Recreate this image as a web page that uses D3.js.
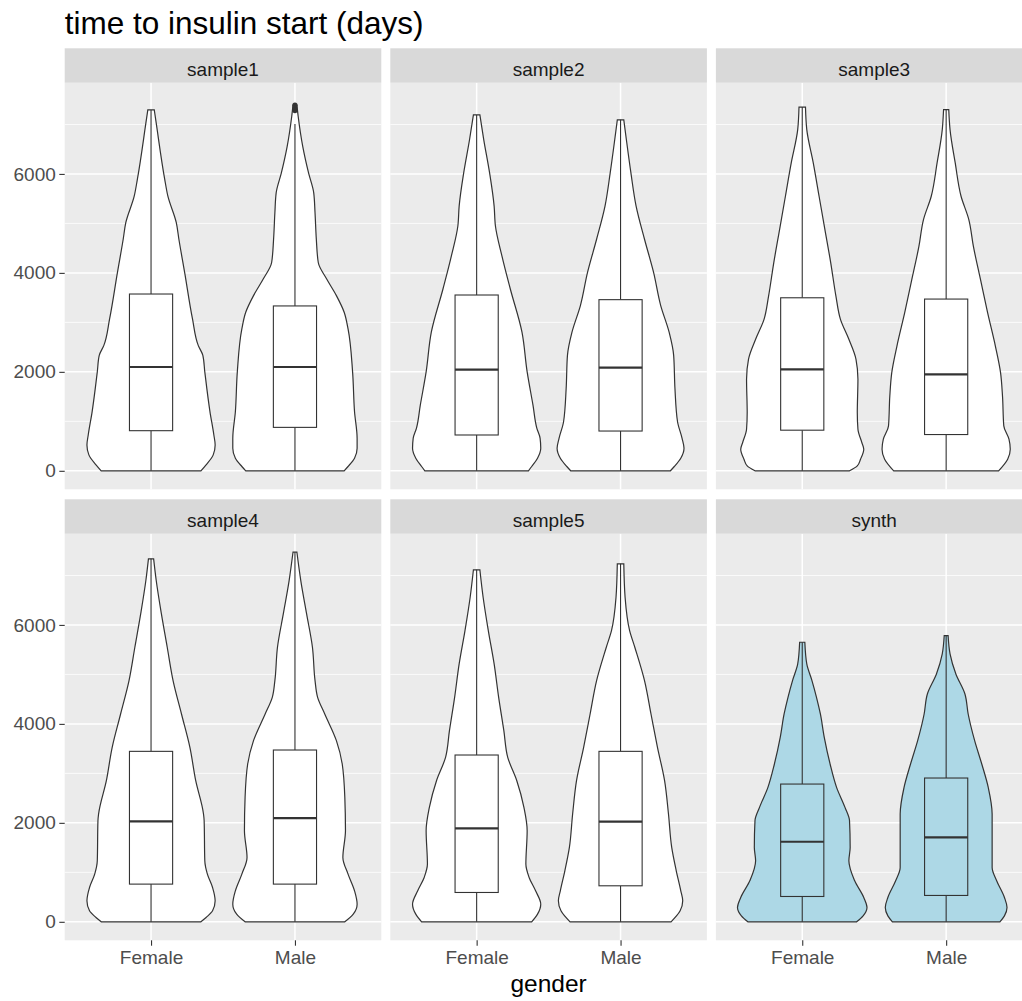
<!DOCTYPE html>
<html>
<head>
<meta charset="utf-8">
<script src="https://cdn.jsdelivr.net/npm/d3@7"></script>
<style>
  body { margin: 0; background: #fff; }
  text { font-family: "Liberation Sans", Arial, sans-serif; }
</style>
</head>
<body>
<div id="chart"></div>
<script>
var panels = ["sample1", "sample2", "sample3", "sample4", "sample5", "synth"];
var genders = ["Female", "Male"];
var yTicks = [0, 2000, 4000, 6000];
var yMinor = [1000, 3000, 5000, 7000];

// violin outlines: [days, relative density]
var s1Female = [[0,0.77],[121,0.85],[322,0.96],[523,0.99],[724,0.97],[1193,0.91],[2000,0.83],[2333,0.80],[2530,0.73],[3070,0.64],[4000,0.52],[4680,0.43],[5015,0.39],[5550,0.26],[5900,0.21],[7025,0.08],[7294,0.05]];
var s1Male = [[0,0.76],[87,0.82],[255,0.92],[456,0.96],[657,0.96],[1193,0.92],[2000,0.89],[2869,0.82],[3204,0.76],[3540,0.64],[3875,0.49],[4210,0.36],[4680,0.33],[5216,0.31],[5618,0.29],[6020,0.21],[6557,0.12],[7160,0.05],[7390,0.03]];
var s2Female = [[0,0.80],[87,0.85],[255,0.94],[456,0.99],[657,0.98],[858,0.93],[1327,0.87],[1998,0.78],[2802,0.70],[3674,0.52],[4344,0.39],[4948,0.29],[5350,0.27],[6020,0.20],[6690,0.11],[7193,0.05]];
var s2Male = [[0,0.77],[87,0.83],[255,0.93],[456,0.98],[657,0.95],[992,0.88],[1663,0.84],[2333,0.82],[2802,0.75],[3339,0.62],[4009,0.51],[4680,0.37],[5350,0.24],[6020,0.16],[6690,0.09],[7093,0.05]];
var s3Female = [[0,0.73],[100,0.85],[235,0.90],[437,0.95],[572,0.92],[841,0.86],[1177,0.85],[1850,0.86],[2253,0.83],[2657,0.72],[3060,0.59],[3531,0.52],[4204,0.44],[4876,0.35],[5549,0.26],[6222,0.17],[6894,0.07],[7351,0.05]];
var s3Male = [[0,0.81],[235,0.95],[437,0.99],[639,0.97],[908,0.89],[1513,0.87],[1984,0.84],[2522,0.76],[3195,0.64],[3867,0.53],[4540,0.42],[5078,0.35],[5549,0.23],[6222,0.14],[6894,0.06],[7298,0.04]];
var s4Female = [[0,0.77],[88,0.85],[222,0.95],[425,0.99],[694,0.95],[964,0.87],[1234,0.83],[2043,0.82],[2178,0.81],[2852,0.69],[3526,0.60],[4200,0.47],[4875,0.34],[5549,0.25],[6223,0.16],[6897,0.08],[7335,0.04]];
var s4Male = [[0,0.77],[155,0.90],[357,0.96],[627,0.92],[964,0.82],[1301,0.74],[1841,0.78],[2515,0.77],[3189,0.73],[3661,0.64],[4200,0.46],[4537,0.35],[4875,0.31],[5549,0.27],[6223,0.18],[6897,0.09],[7470,0.03]];
var s5Female = [[0,0.85],[155,0.94],[357,0.99],[627,0.91],[897,0.81],[1166,0.76],[1841,0.78],[2313,0.73],[2852,0.62],[3324,0.48],[3863,0.42],[4537,0.34],[5212,0.27],[5886,0.18],[6560,0.10],[7113,0.05]];
var s5Male = [[0,0.78],[222,0.92],[425,0.96],[627,0.93],[1032,0.86],[1503,0.79],[2178,0.74],[2852,0.68],[3526,0.57],[4200,0.47],[4874,0.37],[5549,0.22],[5886,0.14],[6560,0.07],[7234,0.05]];
var synFemale = [[0,0.84],[121,0.94],[290,1.0],[492,0.95],[829,0.81],[1234,0.72],[1503,0.74],[2043,0.73],[2312,0.66],[2717,0.53],[3189,0.43],[3728,0.34],[4200,0.28],[4537,0.22],[4875,0.15],[5211,0.07],[5650,0.04]];
var synMale = [[0,0.83],[121,0.90],[290,0.94],[492,0.90],[829,0.78],[1099,0.71],[1638,0.71],[2178,0.71],[2717,0.65],[3189,0.55],[3661,0.44],[4200,0.34],[4605,0.29],[5009,0.15],[5414,0.06],[5785,0.03]];

// boxplot stats per panel: [Female, Male]
var q1 = [[811, 878], [724, 804], [821, 733], [762, 762], [593, 728], [512, 533]];
var median = [[2098, 2098], [2045, 2085], [2051, 1951], [2029, 2097], [1888, 2023], [1618, 1706]];
var q3 = [[3573, 3332], [3553, 3459], [3497, 3471], [3445, 3472], [3371, 3445], [2784, 2906]];
var whiskerLow = [[0, 0], [0, 0], [0, 0], [0, 0], [0, 0], [0, 0]];
var whiskerHigh = [[7294, 7010], [7193, 7093], [7351, 7298], [7335, 7470], [7113, 7234], [5650, 5785]];
var outliers = [[[], [7280, 7330, 7390]], [[], []], [[], []], [[], []], [[], []], [[], []]];

var violins = [[s1Female, s1Male], [s2Female, s2Male], [s3Female, s3Male],
  [s4Female, s4Male], [s5Female, s5Male], [synFemale, synMale]];

function init() {
  var w = 1022;
  var h = 1001;
  var panelLeft = 64.7;
  var panelW = 316.6;
  var panelGap = 9;
  var stripTop = [48.3, 499.3];
  var stripH = 34.4;
  var panelH = 406.6;

  var svg = d3.select("#chart")
    .append("svg")
    .attr("width", w)
    .attr("height", h);

  svg.append("rect").attr("width", w).attr("height", h).attr("fill", "#fff");

  var allDays = [];
  violins.forEach(function (p) {
    p.forEach(function (v) {
      v.forEach(function (d) { allDays.push(d[0]); });
    });
  });
  var lo = d3.min(allDays), hi = d3.max(allDays);
  var pad = (hi - lo) * 0.05;

  var x = d3.scalePoint()
    .domain(genders)
    .range([0, panelW])
    .padding(0.6);
  var step = x.step();
  var dens = d3.scaleLinear().domain([0, 1]).range([0, 0.45 * step]);

  panels.forEach(function (name, i) {
    var row = Math.floor(i / 3), col = i % 3;
    var px = panelLeft + col * (panelW + panelGap);
    var top = stripTop[row] + stripH;
    var y = d3.scaleLinear()
      .domain([lo - pad, hi + pad])
      .range([panelH, 0]);

    var g = svg.append("g").attr("transform", "translate(" + px + "," + top + ")");

    // strip
    svg.append("rect")
      .attr("x", px).attr("y", stripTop[row])
      .attr("width", panelW).attr("height", stripH)
      .attr("fill", "#D9D9D9");
    svg.append("text")
      .attr("x", px + panelW / 2).attr("y", stripTop[row] + 27.5)
      .attr("text-anchor", "middle")
      .attr("font-size", "19px")
      .attr("fill", "#1A1A1A")
      .text(name);

    g.append("rect").attr("width", panelW).attr("height", panelH).attr("fill", "#EBEBEB");

    g.selectAll(".minor")
      .data(yMinor)
      .enter()
      .append("line")
      .attr("x1", 0).attr("x2", panelW)
      .attr("y1", function (d) { return y(d); })
      .attr("y2", function (d) { return y(d); })
      .attr("stroke", "#fff")
      .attr("stroke-width", 0.8);
    g.selectAll(".major")
      .data(yTicks)
      .enter()
      .append("line")
      .attr("x1", 0).attr("x2", panelW)
      .attr("y1", function (d) { return y(d); })
      .attr("y2", function (d) { return y(d); })
      .attr("stroke", "#fff")
      .attr("stroke-width", 1.5);
    g.selectAll(".vgrid")
      .data(genders)
      .enter()
      .append("line")
      .attr("x1", function (d) { return x(d); })
      .attr("x2", function (d) { return x(d); })
      .attr("y1", 0).attr("y2", panelH)
      .attr("stroke", "#fff")
      .attr("stroke-width", 1.5);

    var fill = name === "synth" ? "#ADD8E6" : "#FFFFFF";

    genders.forEach(function (gender, j) {
      var cx = x(gender);
      var area = d3.area()
        .curve(d3.curveMonotoneY)
        .y(function (d) { return y(d[0]); })
        .x0(function (d) { return cx - dens(d[1]); })
        .x1(function (d) { return cx + dens(d[1]); });
      g.append("path")
        .datum(violins[i][j])
        .attr("d", area)
        .attr("fill", fill)
        .attr("stroke", "#333333")
        .attr("stroke-width", 1.2);

      var bw = 0.3 * step;
      g.append("line")
        .attr("x1", cx).attr("x2", cx)
        .attr("y1", y(q3[i][j])).attr("y2", y(whiskerHigh[i][j]))
        .attr("stroke", "#333333").attr("stroke-width", 1.1);
      g.append("line")
        .attr("x1", cx).attr("x2", cx)
        .attr("y1", y(q1[i][j])).attr("y2", y(whiskerLow[i][j]))
        .attr("stroke", "#333333").attr("stroke-width", 1.1);
      g.append("rect")
        .attr("x", cx - bw / 2)
        .attr("y", y(q3[i][j]))
        .attr("width", bw)
        .attr("height", y(q1[i][j]) - y(q3[i][j]))
        .attr("fill", fill)
        .attr("stroke", "#333333")
        .attr("stroke-width", 1.1);
      g.append("line")
        .attr("x1", cx - bw / 2).attr("x2", cx + bw / 2)
        .attr("y1", y(median[i][j])).attr("y2", y(median[i][j]))
        .attr("stroke", "#333333").attr("stroke-width", 2.2);

      g.selectAll(".out" + j)
        .data(outliers[i][j])
        .enter()
        .append("circle")
        .attr("cx", cx)
        .attr("cy", function (d) { return y(d); })
        .attr("r", 2.6)
        .attr("fill", "#333333");
    });

    if (col === 0) {
      var yAxis = d3.axisLeft(y).tickValues(yTicks).tickFormat(d3.format("d"))
        .tickSize(5.4).tickPadding(3.5);
      var ya = g.append("g").call(yAxis);
      ya.select(".domain").remove();
      ya.selectAll("line").attr("stroke", "#333333").attr("stroke-width", 1.1);
      ya.selectAll("text")
        .attr("fill", "#4D4D4D")
        .attr("font-size", "19px")
        .attr("font-family", "Liberation Sans, Arial, sans-serif");
    }
    if (row === 1) {
      var xAxis = d3.axisBottom(x).tickSize(5.4).tickPadding(5);
      var xa = g.append("g").attr("transform", "translate(0," + panelH + ")").call(xAxis);
      xa.select(".domain").remove();
      xa.selectAll("line").attr("stroke", "#333333").attr("stroke-width", 1.1);
      xa.selectAll("text")
        .attr("fill", "#4D4D4D")
        .attr("font-size", "19px")
        .attr("font-family", "Liberation Sans, Arial, sans-serif");
    }
  });

  svg.append("text")
    .attr("x", panelLeft)
    .attr("y", 34)
    .attr("font-size", "31.5px")
    .attr("fill", "#000")
    .text("time to insulin start (days)");

  var plotRight = panelLeft + 3 * panelW + 2 * panelGap;
  svg.append("text")
    .attr("x", (panelLeft + plotRight) / 2)
    .attr("y", 992)
    .attr("text-anchor", "middle")
    .attr("font-size", "24.5px")
    .attr("fill", "#000")
    .text("gender");
}

window.onload = init;
</script>
</body>
</html>
